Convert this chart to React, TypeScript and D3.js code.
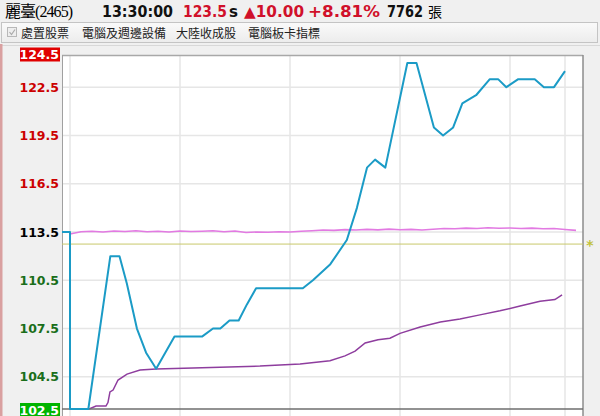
import React, { useEffect, useRef } from 'react';
import * as d3 from 'd3';

// quote header
const stockName = '麗臺(2465)';
const quoteTime = '13:30:00';
const lastPrice = '123.5';
const changeText = '▲10.00';
const changePct = '+8.81%';
const volumeText = '7762';
const tags = ['處置股票', '電腦及週邊設備', '大陸收成股', '電腦板卡指標'];

const prevClose = 113.5;
const refPrice = 112.75;
const yTicks = [124.5, 122.5, 119.5, 116.5, 113.5, 110.5, 107.5, 104.5, 102.5];
const timeGrid = [0, 60, 120, 180, 240, 270]; // minutes after 09:00

// traded price (minutes after 09:00 / price)
const priceMinutes = [0, 10, 22, 27, 31, 36.5, 41.5, 47, 57, 72, 78, 82, 87, 92, 96.5, 101.5, 127, 132.5, 142, 151,
  156.5, 162, 166.4, 172, 184, 189, 198.5, 203.5, 209, 214, 221.5, 229, 233.5, 238, 244.5, 253.5, 258.5, 264, 270];
const priceValues = [102.5, 102.5, 112.0, 112.0, 110.3, 107.5, 106.0, 105.0, 107.0, 107.0, 107.5, 107.5, 108.0, 108.0, 109.0, 110.0, 110.0, 110.5, 111.5, 113.0,
  115.0, 117.5, 118.0, 117.5, 124.0, 124.0, 120.0, 119.5, 120.0, 121.5, 122.0, 123.0, 123.0, 122.5, 123.0, 123.0, 122.5, 122.5, 123.5];

// average price
const avgMinutes = [10.4, 14.2, 19.6, 20.7, 21.8, 23.5, 26.2, 31.1, 38.2, 46.9, 67.1, 103.6, 125.5, 141.8, 150,
  155.5, 161, 168, 174.5, 180, 191, 202, 212.7, 223.6, 234.5, 245.5, 256.4, 264.5, 268.4];
const avgValues = [102.5, 102.68, 102.68, 102.9, 103.56, 103.68, 104.3, 104.67, 104.92, 104.98, 105.05, 105.17, 105.3, 105.5, 105.8,
  106.1, 106.6, 106.8, 106.9, 107.2, 107.6, 107.9, 108.1, 108.35, 108.6, 108.9, 109.2, 109.3, 109.6];

// market index overlay, every 6 minutes
const indexValues = [113.38, 113.52, 113.55, 113.5, 113.56, 113.53, 113.58, 113.52, 113.55, 113.5, 113.56, 113.53, 113.55, 113.58, 113.52, 113.56,
  113.47, 113.5, 113.48, 113.52, 113.5, 113.55, 113.58, 113.62, 113.6, 113.65, 113.62, 113.66, 113.63, 113.68, 113.64, 113.66,
  113.62, 113.67, 113.72, 113.7, 113.74, 113.72, 113.76, 113.73, 113.75, 113.72, 113.74, 113.7, 113.72, 113.66, 113.6];

const labelColor = (v: number) => (v > prevClose ? '#cc0000' : v < prevClose ? '#1a6e1a' : '#000');

const App: React.FC = () => {
  const svgRef = useRef<SVGSVGElement>(null);

  useEffect(() => {
    if (!svgRef.current) return;
    const svg = d3.select(svgRef.current);
    svg.selectAll('*').remove();

    const W = 600;
    const H = 416;
    const plot = { left: 62, top: 55, right: 583, bottom: 409 };

    const x = d3.scaleLinear().domain([0, 270]).range([70, 565]);
    const y = d3.scaleLinear().domain([102.5, 124.5]).range([409, 55]);

    svg.append('rect').attr('width', W).attr('height', H).attr('fill', '#f0f0f0');

    // header row
    const head = svg.append('g').attr('font-size', 15);
    head.append('text').attr('x', 5).attr('y', 17).attr('font-family', '"Liberation Serif", "Noto Sans CJK TC", serif')
      .attr('font-size', 16).attr('textLength', 68).text(stockName);
    const bold = (txt: string, x0: number, len: number, fill: string) =>
      head.append('text').attr('x', x0).attr('y', 17).attr('font-family', '"DejaVu Sans", sans-serif')
        .attr('font-weight', 'bold').attr('fill', fill).attr('textLength', len).attr('lengthAdjust', 'spacingAndGlyphs').text(txt);
    bold(quoteTime, 102, 71, '#111');
    bold(lastPrice, 183, 44, '#d0102a');
    bold('s', 229, 9, '#111');
    bold(changeText, 244, 60, '#d0102a');
    bold(changePct, 308, 72, '#d0102a');
    bold(volumeText, 387, 36, '#111');
    head.append('text').attr('x', 428).attr('y', 17).attr('font-family', '"Noto Sans CJK TC", serif').attr('font-size', 14).text('張');

    // tag row
    const grad = svg.append('defs').append('linearGradient').attr('id', 'tagbg')
      .attr('x1', '0%').attr('y1', '0%').attr('x2', '0%').attr('y2', '100%');
    grad.append('stop').attr('offset', '0%').attr('stop-color', '#fafafa');
    grad.append('stop').attr('offset', '100%').attr('stop-color', '#ececec');
    svg.append('rect').attr('x', 1.5).attr('y', 22.5).attr('width', 596).attr('height', 20)
      .attr('fill', 'url(#tagbg)').attr('stroke', '#c4c4c4');
    svg.append('rect').attr('x', 7.5).attr('y', 27.5).attr('width', 9).attr('height', 9)
      .attr('fill', '#eee').attr('stroke', '#b8b8b8');
    svg.append('path').attr('d', 'M9.5,32 L11.5,34.5 L15,29.5').attr('fill', 'none').attr('stroke', '#aaa').attr('stroke-width', 1.2);
    const tagX = [21, 82, 176, 248];
    tags.forEach((t, i) => {
      svg.append('text').attr('x', tagX[i]).attr('y', 37.5).attr('font-family', '"Noto Sans CJK TC", sans-serif')
        .attr('font-size', 12).attr('fill', '#222').text(t);
    });
    svg.append('line').attr('x1', 0).attr('x2', W).attr('y1', 45.5).attr('y2', 45.5).attr('stroke', '#d8d8d8');

    // left stripe
    svg.append('rect').attr('x', 0).attr('y', 44).attr('width', 2.5).attr('height', H - 44).attr('fill', '#d9a0a0');

    // plot area
    svg.append('rect').attr('x', plot.left).attr('y', plot.top).attr('width', plot.right - plot.left)
      .attr('height', H - plot.top).attr('fill', '#fff');

    const grid = svg.append('g').attr('stroke', '#e6e6e6').attr('stroke-width', 1.5);
    timeGrid.forEach((t) => {
      grid.append('line').attr('x1', x(t)).attr('x2', x(t)).attr('y1', plot.top).attr('y2', H);
    });
    yTicks.slice(1, -1).forEach((v) => {
      grid.append('line').attr('x1', plot.left).attr('x2', plot.right).attr('y1', y(v)).attr('y2', y(v));
    });

    // borders
    svg.append('line').attr('x1', plot.left).attr('x2', plot.right).attr('y1', plot.top + 0.5).attr('y2', plot.top + 0.5)
      .attr('stroke', '#a8a8a8').attr('stroke-width', 1.5);
    svg.append('line').attr('x1', plot.left + 0.5).attr('x2', plot.left + 0.5).attr('y1', plot.top).attr('y2', H)
      .attr('stroke', '#a0a0a0');
    svg.append('line').attr('x1', plot.right).attr('x2', plot.right).attr('y1', plot.top).attr('y2', H)
      .attr('stroke', '#8c8c8c').attr('stroke-width', 1.5);

    // reference line
    svg.append('line').attr('x1', plot.left).attr('x2', plot.right).attr('y1', y(refPrice)).attr('y2', y(refPrice))
      .attr('stroke', '#c9c96a').attr('stroke-width', 1);
    svg.append('text').attr('x', 590).attr('y', y(refPrice) + 6).attr('text-anchor', 'middle')
      .attr('font-family', '"DejaVu Sans", sans-serif').attr('font-weight', 'bold').attr('font-size', 14)
      .attr('fill', '#c2c23c').text('*');

    const line = d3.line<[number, number]>().x((d) => x(d[0])).y((d) => y(d[1]));

    // index overlay
    const indexPts = indexValues.map((v, i) => [i * 6, v] as [number, number]);
    svg.append('path').datum(indexPts).attr('d', line).attr('fill', 'none')
      .attr('stroke', '#e27ae2').attr('stroke-width', 1.6);

    // average price
    const avgPts = avgMinutes.map((m, i) => [m, avgValues[i]] as [number, number]);
    svg.append('path').datum(avgPts).attr('d', line).attr('fill', 'none')
      .attr('stroke', '#8e3d9e').attr('stroke-width', 1.5);

    // bottom axis line
    svg.append('line').attr('x1', plot.left).attr('x2', plot.right).attr('y1', y(102.5)).attr('y2', y(102.5))
      .attr('stroke', '#6e6e6e').attr('stroke-width', 1.5);

    // price line, starting from previous close at the left edge
    const preOpen = x.invert(plot.left);
    const pricePts: [number, number][] = [[preOpen, prevClose], [0, prevClose],
      ...priceMinutes.map((m, i) => [m, priceValues[i]] as [number, number])];
    svg.append('path').datum(pricePts).attr('d', line).attr('fill', 'none')
      .attr('stroke', '#1b9bc6').attr('stroke-width', 2).attr('stroke-linejoin', 'round');

    // y labels
    const labels = svg.append('g').attr('font-family', '"DejaVu Sans", sans-serif').attr('font-weight', 'bold')
      .attr('font-size', 12.5);
    yTicks.forEach((v, i) => {
      const first = i === 0;
      const last = i === yTicks.length - 1;
      const yy = first ? 54.5 : last ? 410 : y(v);
      if (first || last) {
        labels.append('rect').attr('x', 20).attr('y', yy - 7).attr('width', 40).attr('height', 14)
          .attr('fill', first ? '#e00000' : '#00b400');
      }
      labels.append('text').attr('x', 59).attr('y', yy).attr('dy', '0.36em').attr('text-anchor', 'end')
        .attr('fill', first || last ? '#fff' : labelColor(v)).text(v.toFixed(1));
    });
  }, []);

  return (
    <svg
      ref={svgRef}
      width={600}
      height={416}
      style={{ position: 'absolute', left: 0, top: 0, display: 'block' }}
    />
  );
};

export default App;
